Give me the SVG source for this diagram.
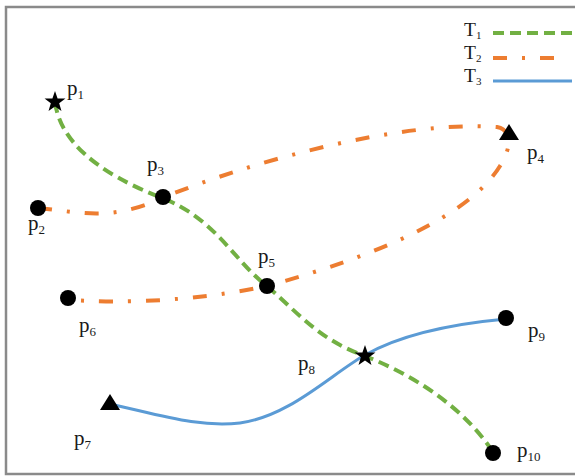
<svg xmlns="http://www.w3.org/2000/svg" width="575" height="476" viewBox="0 0 575 476">
<style>
.lbl{font-family:"Liberation Serif","DejaVu Serif",serif;font-size:21px;fill:#1a1a1a}
.sub{font-size:13px}
.leg{font-family:"Liberation Serif","DejaVu Serif",serif;font-size:19.5px;fill:#1a1a1a}
.lsub{font-size:11px}
.t1{fill:none;stroke:#72b043;stroke-width:4;stroke-dasharray:11 6}
.t2{fill:none;stroke:#ed7d31;stroke-width:4;stroke-dasharray:14 15 3 15}
.t3{fill:none;stroke:#5b9bd5;stroke-width:3}
</style>
<defs>
<polygon id="star" points="0,-11 2.59,-3.56 10.46,-3.4 4.18,1.36 6.47,8.9 0,4.4 -6.47,8.9 -4.18,1.36 -10.46,-3.4 -2.59,-3.56" fill="#000"/>
<polygon id="tri" points="0,-9 10,7 -10,7" fill="#000"/>
</defs>
<rect x="6" y="7" width="600" height="467" fill="#fff" stroke="#8a8a8a" stroke-width="2.5"/>
<g id="legend">
<text class="leg" x="464" y="36">T<tspan class="lsub" dy="3">1</tspan></text>
<text class="leg" x="464" y="59">T<tspan class="lsub" dy="3">2</tspan></text>
<text class="leg" x="464" y="82">T<tspan class="lsub" dy="3">3</tspan></text>
<line class="t1" x1="493" y1="33" x2="572" y2="33"/>
<line class="t2" x1="493" y1="58" x2="558" y2="58"/>
<line class="t3" x1="493" y1="81" x2="572" y2="81"/>
</g>
<g id="connectors">
<path class="t1" d="M55,102 C60,140 95,172 162,198 C215,218 235,262 267,286 C300,315 320,340 365,356 C420,378 465,410 493,452"/>
<path class="t2" d="M38,208 C80,212 110,222 162,198 C250,162 400,120 497,127 C512,130 512,147 500,166 C470,215 380,255 267,286 C220,296 150,305 70,300"/>
<path class="t3" d="M110,404 C160,415 200,428 240,423 C290,416 330,375 365,355 C395,338 440,325 506,319"/>
</g>
<g id="p1"><use href="#star" x="55" y="102"/><text class="lbl" x="67" y="95">p<tspan class="sub" dy="4">1</tspan></text></g>
<g id="p2"><circle cx="38" cy="208" r="8"/><text class="lbl" x="28" y="230">p<tspan class="sub" dy="4">2</tspan></text></g>
<g id="p3"><circle cx="163" cy="197" r="8"/><text class="lbl" x="147" y="171">p<tspan class="sub" dy="4">3</tspan></text></g>
<g id="p4"><use href="#tri" x="509" y="133"/><text class="lbl" x="527" y="159">p<tspan class="sub" dy="4">4</tspan></text></g>
<g id="p5"><circle cx="267" cy="286" r="8"/><text class="lbl" x="258" y="263">p<tspan class="sub" dy="4">5</tspan></text></g>
<g id="p6"><circle cx="68" cy="298" r="8"/><text class="lbl" x="79" y="332">p<tspan class="sub" dy="4">6</tspan></text></g>
<g id="p7"><use href="#tri" x="110" y="403"/><text class="lbl" x="74" y="445">p<tspan class="sub" dy="4">7</tspan></text></g>
<g id="p8"><use href="#star" x="365" y="356"/><text class="lbl" x="298" y="370">p<tspan class="sub" dy="4">8</tspan></text></g>
<g id="p9"><circle cx="506" cy="318" r="8"/><text class="lbl" x="528" y="337">p<tspan class="sub" dy="4">9</tspan></text></g>
<g id="p10"><circle cx="493" cy="453" r="8"/><text class="lbl" x="517" y="457">p<tspan class="sub" dy="4">10</tspan></text></g>
</svg>
